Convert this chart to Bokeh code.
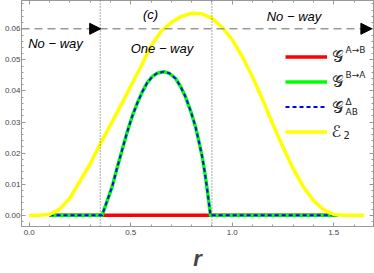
from bokeh.plotting import figure
from bokeh.models import (Span, Arrow, NormalHead, Label, Legend, LegendItem, LinearAxis,
                          SingleIntervalTicker, NumeralTickFormatter, Range1d,
                          CustomJSTickFormatter)
from bokeh.embed import file_html
from bokeh.resources import INLINE

# ---- data ----
r_e2 = [0.00, 0.05, 0.10, 0.15, 0.20, 0.25, 0.30, 0.35, 0.40, 0.45, 0.50, 0.55, 0.60, 0.65,
        0.70, 0.75, 0.80, 0.85, 0.90, 0.95, 1.00, 1.05, 1.10, 1.15, 1.20, 1.25, 1.30, 1.35,
        1.40, 1.45, 1.50, 1.55, 1.60, 1.65]
e2 = [0.0, 0.0, 0.0003, 0.0020, 0.0055, 0.0110, 0.0165, 0.0230, 0.0290, 0.0352, 0.0415,
      0.0478, 0.0545, 0.0592, 0.0620, 0.0640, 0.0650, 0.0648, 0.0634, 0.0605, 0.0565,
      0.0510, 0.0445, 0.0372, 0.0293, 0.0220, 0.0150, 0.0092, 0.0048, 0.0018, 0.0003,
      0.0, 0.0, 0.0]

r_g = [0.10, 0.359, 0.409, 0.43, 0.458, 0.48, 0.507, 0.535, 0.557, 0.58, 0.606, 0.63,
       0.663, 0.69, 0.721, 0.745, 0.77, 0.795, 0.819, 0.835, 0.852, 0.865, 0.877, 0.893,
       1.52]
g_ba = [0.0, 0.0, 0.0093, 0.0145, 0.0211, 0.0262, 0.0318, 0.0365, 0.0397, 0.0425, 0.0446,
        0.0457, 0.0462, 0.0457, 0.0440, 0.0415, 0.0381, 0.0336, 0.0285, 0.0240, 0.0189,
        0.0138, 0.0082, 0.0, 0.0]
g_delta = g_ba
r_ab = [0.10, 1.52]
g_ab = [0.0, 0.0]

r_boundaries = [0.35, 0.90]
threshold = 0.06

x_ticks_interval = 0.5
y_ticks_interval = 0.01

FONT = "Liberation Sans"

p = figure(width=374, height=273, output_backend="svg", toolbar_location=None,
           x_range=Range1d(-0.038, 1.696), y_range=Range1d(-0.0036, 0.0691),
           min_border_left=21, min_border_right=1, min_border_top=0, min_border_bottom=46)
p.xgrid.visible = False
p.ygrid.visible = False
p.outline_line_color = "#999999"
p.background_fill_color = "white"
p.border_fill_color = "white"

def style_axis(ax, labels=True, standoff=3):
    ax.axis_line_color = "#999999"
    ax.major_tick_line_color = "#999999"
    ax.minor_tick_line_color = "#999999"
    ax.major_tick_in = 4
    ax.major_tick_out = 0
    ax.minor_tick_in = 2
    ax.minor_tick_out = 0
    if labels:
        ax.major_label_text_font = FONT
        ax.major_label_text_font_size = "8px"
        ax.major_label_text_color = "#444444"
        ax.major_label_standoff = standoff
    else:
        ax.formatter = CustomJSTickFormatter(code="return ''")
        ax.major_label_standoff = 0

xt = SingleIntervalTicker(interval=x_ticks_interval, num_minor_ticks=5)
yt = SingleIntervalTicker(interval=y_ticks_interval, num_minor_ticks=5)
p.xaxis.ticker = xt
p.yaxis.ticker = yt
p.xaxis.formatter = NumeralTickFormatter(format="0.0")
p.yaxis.formatter = NumeralTickFormatter(format="0.00")
style_axis(p.xaxis[0], standoff=3)
style_axis(p.yaxis[0], standoff=1)
p.xaxis.axis_label = "r"
p.xaxis.axis_label_text_font = FONT
p.xaxis.axis_label_text_font_style = "bold italic"
p.xaxis.axis_label_text_font_size = "22px"
p.xaxis.axis_label_standoff = 8

top = LinearAxis(ticker=SingleIntervalTicker(interval=x_ticks_interval, num_minor_ticks=5))
right = LinearAxis(ticker=SingleIntervalTicker(interval=y_ticks_interval, num_minor_ticks=5))
style_axis(top, labels=False)
style_axis(right, labels=False)
p.add_layout(top, "above")
p.add_layout(right, "right")

# boundary lines
for rb in r_boundaries:
    p.add_layout(Span(location=rb, dimension="height", line_color="#555555",
                      line_dash="1 2", line_width=1))
p.add_layout(Span(location=threshold, dimension="width", line_color="#999999",
                  line_dash="8 5", line_width=1.5))

# curves
lr = p.line(r_ab, g_ab, line_color="#FF0000", line_width=3.5)
lg = p.line(r_g, g_ba, line_color="#00FF00", line_width=3.5, line_join="round")
lb = p.line(r_g, g_delta, line_color="#0000FF", line_width=2, line_dash="4 3",
            line_join="round")
ly = p.line(r_e2, e2, line_color="#FFFF00", line_width=3.5, line_join="round")

# arrowheads on threshold line
for xs, xe in [(0.30, 0.352), (1.62, 1.688)]:
    p.add_layout(Arrow(end=NormalHead(size=11, fill_color="black", line_color="black"),
                       x_start=xs, y_start=threshold, x_end=xe, y_end=threshold,
                       line_alpha=0))

# region texts
def txt(x, y, s, align="left", size="13px"):
    p.add_layout(Label(x=x, y=y, text=s, text_font=FONT, text_font_style="italic",
                       text_font_size=size, text_align=align, text_baseline="middle",
                       text_color="black"))

txt(-0.005, 0.0553, "No − way")
txt(0.50, 0.0537, "One − way")
txt(1.17, 0.0640, "No − way")
txt(0.598, 0.0646, "(c)", align="center")

# legend
legend = Legend(items=[LegendItem(label=" ", renderers=[lr]),
                       LegendItem(label=" ", renderers=[lg]),
                       LegendItem(label=" ", renderers=[lb]),
                       LegendItem(label=" ", renderers=[ly])],
                location=(264, 88), glyph_width=42, glyph_height=13, spacing=12,
                label_text_font_size="1px", label_width=0, label_standoff=0,
                padding=0, margin=0, border_line_alpha=0, background_fill_alpha=0)
p.add_layout(legend, "center")

def stxt(x, y, s, size):
    p.add_layout(Label(x=x, y=y, x_units="screen", y_units="screen", text=s,
                       text_font="DejaVu Sans", text_font_size=size, text_align="left",
                       text_baseline="middle", text_color="#222222"))

ys = [170, 145, 119, 95]
stxt(310, ys[0], "𝒢", "16px")
stxt(324, ys[0] + 7, "A→B", "9px")
stxt(310, ys[1], "𝒢", "16px")
stxt(324, ys[1] + 7, "B→A", "9px")
stxt(310, ys[2], "𝒢", "16px")
stxt(324, ys[2] + 6, "Δ", "9px")
stxt(324, ys[2] - 4, "AB", "9px")
stxt(310, ys[3], "ℰ", "16px")
stxt(322, ys[3] - 3, "2", "10px")

open("out.html", "w").write(file_html(p, INLINE))
